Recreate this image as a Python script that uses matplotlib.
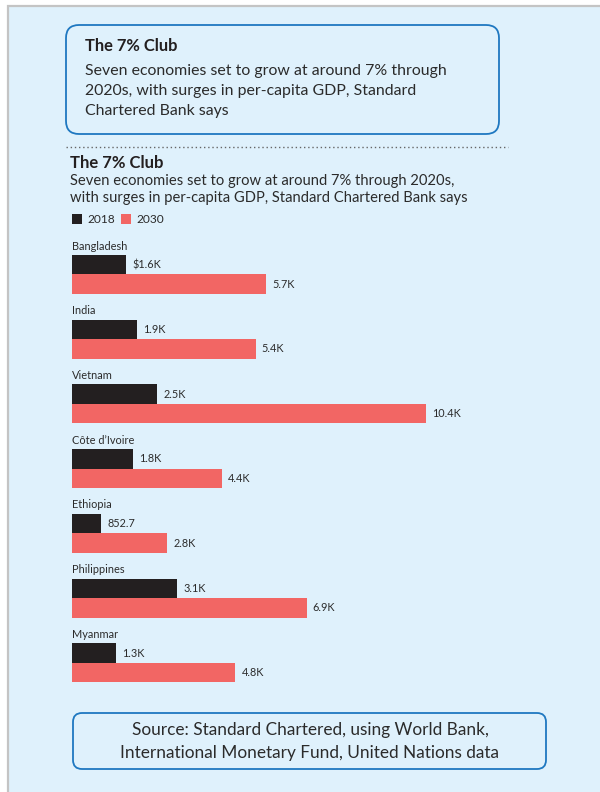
import matplotlib.pyplot as plt
from matplotlib.patches import FancyBboxPatch, Rectangle

plt.rcParams['font.family'] = ['Lato', 'DejaVu Sans']

# -------------------------
# Data (GDP per capita, USD)
# -------------------------
countries = ['Bangladesh', 'India', 'Vietnam', "Côte d’Ivoire",
             'Ethiopia', 'Philippines', 'Myanmar']
gdp_2018 = [1600, 1900, 2500, 1800, 852.7, 3100, 1300]
gdp_2030 = [5700, 5400, 10400, 4400, 2800, 6900, 4800]
series_names = ['2018', '2030']

title = 'The 7% Club'
box_sub = ['Seven economies set to grow at around 7% through',
           '2020s, with surges in per-capita GDP, Standard',
           'Chartered Bank says']
chart_sub = ['Seven economies set to grow at around 7% through 2020s,',
             'with surges in per-capita GDP, Standard Chartered Bank says']
source = ['Source: Standard Chartered, using World Bank,',
          'International Monetary Fund, United Nations data']

BG = '#dff1fc'
DARK = '#231f20'
RED = '#f26664'
BLUE = '#1f78c1'
TXT = '#2b2b2b'


def fmt(v):
    if v >= 1000:
        return f"{v / 1000:.1f}K"
    return f"{v:.1f}"


fig = plt.figure(figsize=(6, 7.92), dpi=100)
fig.patch.set_facecolor('white')

# -------------------------
# Background / decoration layer in pixel coords
# -------------------------
bg = fig.add_axes([0, 0, 1, 1])
bg.set_xlim(0, 600)
bg.set_ylim(792, 0)
bg.axis('off')

bg.add_patch(Rectangle((8, 6), 600, 800, facecolor=BG, edgecolor='#c4c4c4', lw=1.6))

# top card
bg.add_patch(FancyBboxPatch((66, 25), 433, 109, boxstyle='round,pad=0,rounding_size=13',
                            facecolor=BG, edgecolor=BLUE, lw=1.3))
bg.text(85, 46, title, fontsize=11.9, fontweight='bold', color=DARK, va='center', ha='left')
for k, line in enumerate(box_sub):
    bg.text(85, 71 + 20 * k, line, fontsize=11.4, color=TXT, va='center', ha='left')

# dotted separator
bg.plot([66, 508], [147, 147], color='#666666', lw=1, ls=(0, (1, 2)))

# chart titles
bg.text(70, 163, title, fontsize=12, fontweight='bold', color=DARK, va='center', ha='left')
for k, line in enumerate(chart_sub):
    bg.text(70, 181 + 17 * k, line, fontsize=10.6, color=TXT, va='center', ha='left')

# legend
for x0, col, name in [(72, DARK, series_names[0]), (121, RED, series_names[1])]:
    bg.add_patch(Rectangle((x0, 214), 10, 10, facecolor=col, edgecolor='none'))
    bg.text(x0 + 15, 219.5, name, fontsize=8.6, color=TXT, va='center', ha='left')

# source card
bg.add_patch(FancyBboxPatch((73, 713), 473, 56, boxstyle='round,pad=0,rounding_size=9',
                            facecolor=BG, edgecolor=BLUE, lw=1.3))
for k, line in enumerate(source):
    bg.text(310, 730 + 23 * k, line, fontsize=12.4, color=TXT, va='center', ha='center')

# -------------------------
# Bars
# -------------------------
ax = fig.add_axes([72 / 600, (792 - 690) / 792, 510 / 600, 455 / 792])
ax.set_facecolor('none')
ax.axis('off')
ax.set_xlim(0, 15000)
ax.set_ylim(6.42, -0.61)

h = 0.302
ys = list(range(len(countries)))
ax.barh([y - h / 2 for y in ys], gdp_2018, height=h, color=DARK, align='center')
ax.barh([y + h / 2 for y in ys], gdp_2030, height=h, color=RED, align='center')

for i, name in enumerate(countries):
    ax.text(0, i - 0.44, name, fontsize=7.9, color=TXT, va='center', ha='left')
    lab18 = ('$' if i == 0 else '') + fmt(gdp_2018[i])
    ax.annotate(lab18, (gdp_2018[i], i - h / 2), xytext=(4.5, 0), textcoords='offset points',
                fontsize=7.8, color=TXT, va='center', ha='left')
    ax.annotate(fmt(gdp_2030[i]), (gdp_2030[i], i + h / 2), xytext=(4.5, 0),
                textcoords='offset points', fontsize=7.8, color=TXT, va='center', ha='left')

fig.savefig('out.png', dpi=100)
